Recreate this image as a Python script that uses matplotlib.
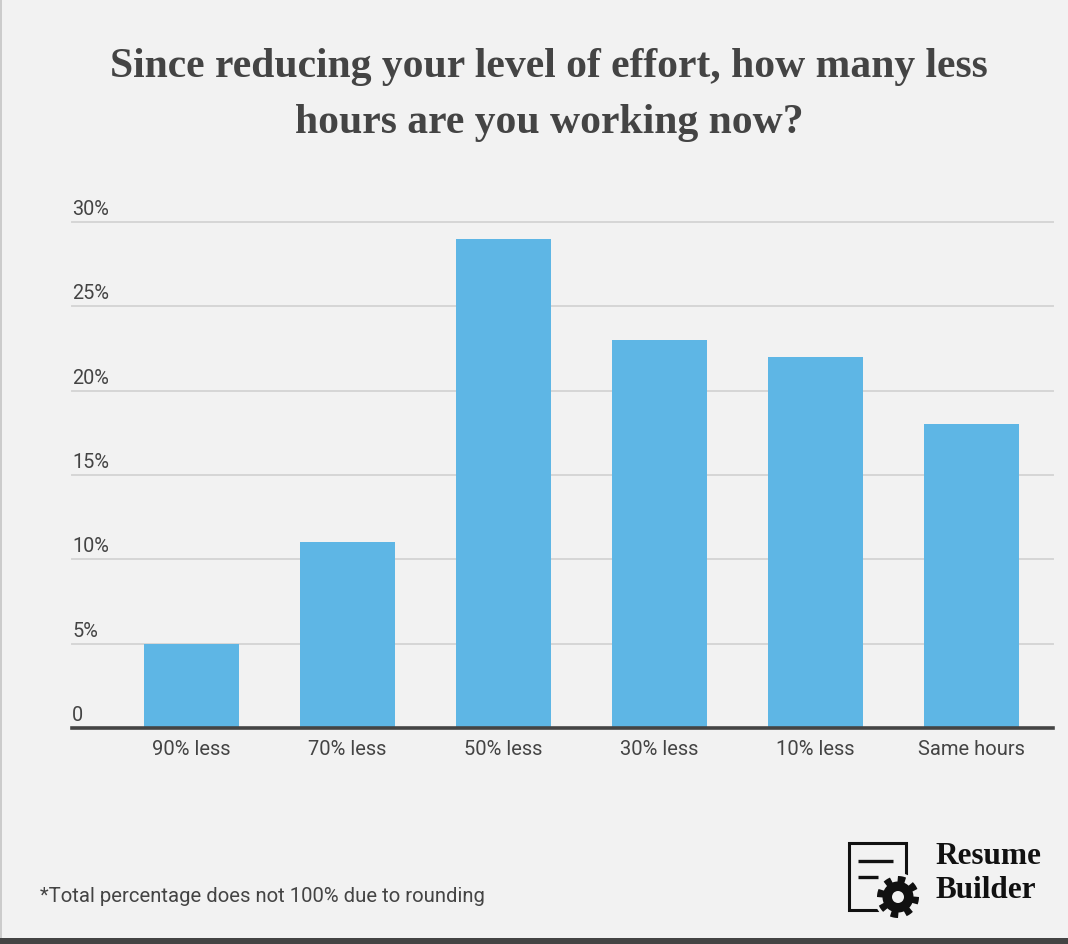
import numpy as np
import matplotlib
matplotlib.use("Agg")
import matplotlib.pyplot as plt
from matplotlib.patches import Rectangle, Polygon, Circle

categories = ["90% less", "70% less", "50% less", "30% less", "10% less", "Same hours"]
values = [5, 11, 29, 23, 22, 18]
yticks = [0, 5, 10, 15, 20, 25, 30]
ytick_labels = ["0", "5%", "10%", "15%", "20%", "25%", "30%"]
title = "Since reducing your level of effort, how many less\nhours are you working now?"
footnote = "*Total percentage does not 100% due to rounding"

W, H = 1068, 945
BG = "#f2f2f2"
TXT = "#444444"
BAR = "#5eb6e5"

fig = plt.figure(figsize=(W / 100, H / 100), dpi=100, facecolor=BG)

# main axes: x 72..1053 px, y 223..729 px
ax = fig.add_axes([72 / W, 1 - 729 / H, (1053 - 72) / W, (729 - 223) / H])
ax.set_facecolor("none")
x = np.arange(len(categories))
ax.bar(x, values, width=0.61, color=BAR, zorder=3)
ax.set_xlim(-0.766, len(categories) - 1 + 0.522)
ax.set_ylim(0, 30)
for s in ["top", "right", "left"]:
    ax.spines[s].set_visible(False)
ax.spines["bottom"].set_color(TXT)
ax.spines["bottom"].set_linewidth(2.6)
ax.spines["bottom"].set_zorder(4)
for t in yticks[1:]:
    ax.axhline(t, color="#d6d6d6", lw=1.4, zorder=1, clip_on=False)
ax.set_yticks([])
ax.set_xticks(x)
ax.set_xticklabels(categories, fontsize=14.5, color=TXT, family="Roboto")
ax.tick_params(axis="x", length=0, pad=8)
for t, lab in zip(yticks, ytick_labels):
    ax.annotate(lab, xy=(0, t), xycoords=("axes fraction", "data"),
                xytext=(0, 4), textcoords="offset pixels",
                ha="left", va="bottom", fontsize=14.3, color=TXT, family="Roboto")

# overlay in pixel coordinates
ov = fig.add_axes([0, 0, 1, 1])
ov.set_xlim(0, W)
ov.set_ylim(H, 0)
ov.axis("off")
ov.set_facecolor("none")

ov.text(549, 95, title, ha="center", va="center", fontsize=30, fontweight="bold",
        color=TXT, family="Liberation Serif", linespacing=1.6)
ov.text(40, 896, footnote, ha="left", va="center", fontsize=14.6, color=TXT, family="Roboto")

# borders
ov.add_patch(Rectangle((0, 0), 1.5, H, color="#cccccc", lw=0))
ov.add_patch(Rectangle((0, 939), W, 6, color="#444444", lw=0))

# logo
ov.add_patch(Rectangle((849, 844), 57, 67, fill=False, ec="#111111", lw=2.2))
ov.plot([858, 893], [862, 862], color="#111111", lw=2.4, solid_capstyle="butt")
ov.plot([858, 878], [878, 878], color="#111111", lw=2.4, solid_capstyle="butt")
cx, cy = 898, 898
ang = np.linspace(0, 2 * np.pi, 8 * 24, endpoint=False)
r = np.where((np.mod(ang * 8 / (2 * np.pi), 1.0) < 0.5), 21, 15.5)
ov.add_patch(Circle((cx, cy), 24, color=BG, lw=0, zorder=4))
ov.add_patch(Polygon(np.column_stack([cx + r * np.cos(ang), cy + r * np.sin(ang)]),
                     closed=True, color="#111111", lw=0, zorder=5))
ov.add_patch(Circle((cx, cy), 6, color=BG, lw=0, zorder=6))
ov.text(935, 857, "Resume", ha="left", va="center", fontsize=22.5, fontweight="bold",
        color="#111111", family="Liberation Serif")
ov.text(935, 891, "Builder", ha="left", va="center", fontsize=22.5, fontweight="bold",
        color="#111111", family="Liberation Serif")

fig.savefig("out.png", dpi=100, facecolor=BG)
